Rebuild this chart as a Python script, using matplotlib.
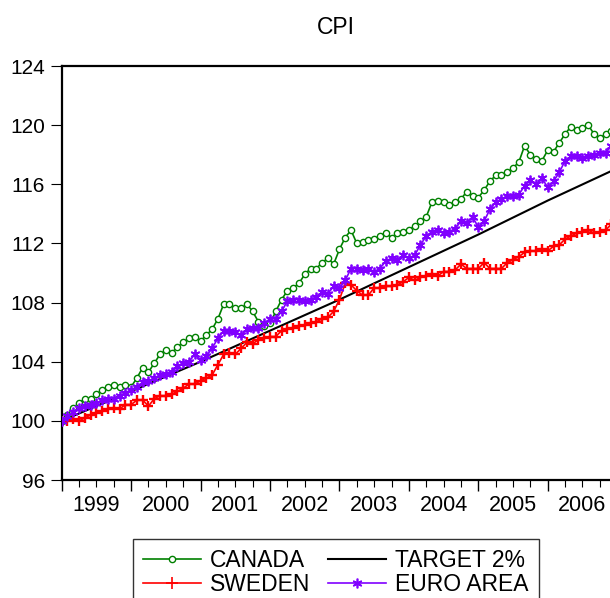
import numpy as np
import matplotlib
matplotlib.use("Agg")
import matplotlib.pyplot as plt
import matplotlib.transforms as mtransforms

plt.rcParams['font.family'] = ['Liberation Sans', 'DejaVu Sans']

# monthly CPI, 1999M1 = 100 (1999M1 .. 2006M12)
start_year = 1999
canada = [100.0, 100.4, 100.9, 101.2, 101.5, 101.5, 101.8, 102.1, 102.3, 102.4, 102.3, 102.4,
          102.3, 102.9, 103.6, 103.3, 103.9, 104.5, 104.8, 104.6, 105.0, 105.3, 105.6, 105.7,
          105.4, 105.8, 106.2, 106.9, 107.9, 107.9, 107.6, 107.6, 107.9, 107.4, 106.7, 106.4,
          106.6, 107.4, 108.2, 108.8, 109.0, 109.3, 109.9, 110.3, 110.3, 110.7, 111.0, 110.6,
          111.6, 112.4, 112.9, 112.0, 112.1, 112.2, 112.3, 112.5, 112.7, 112.4, 112.7, 112.8,
          112.9, 113.2, 113.5, 113.8, 114.8, 114.9, 114.8, 114.6, 114.8, 115.0, 115.5, 115.2,
          115.1, 115.6, 116.2, 116.6, 116.6, 116.8, 117.1, 117.5, 118.6, 118.0, 117.7, 117.6,
          118.3, 118.2, 118.8, 119.4, 119.9, 119.7, 119.8, 120.0, 119.4, 119.1, 119.4, 119.6]
sweden = [100.0, 100.0, 100.1, 100.0, 100.2, 100.4, 100.5, 100.7, 100.8, 100.9, 100.8, 101.1,
          101.1, 101.4, 101.4, 101.0, 101.5, 101.7, 101.7, 101.8, 102.0, 102.2, 102.5, 102.5,
          102.7, 102.9, 103.1, 103.8, 104.5, 104.6, 104.5, 104.9, 105.3, 105.2, 105.5, 105.6,
          105.7, 105.7, 106.1, 106.2, 106.3, 106.4, 106.5, 106.6, 106.7, 106.9, 107.0, 107.4,
          108.2, 109.3, 109.2, 108.8, 108.5, 108.5, 109.0, 109.0, 109.1, 109.1, 109.2, 109.4,
          109.7, 109.5, 109.7, 109.8, 109.9, 109.8, 110.1, 110.1, 110.2, 110.6, 110.3, 110.3,
          110.3, 110.7, 110.3, 110.3, 110.3, 110.7, 110.9, 111.1, 111.4, 111.5, 111.5, 111.6,
          111.5, 111.8, 111.9, 112.3, 112.5, 112.7, 112.8, 112.9, 112.7, 112.8, 112.9, 113.3]
euro = [100.0, 100.3, 100.6, 100.9, 101.0, 101.1, 101.2, 101.4, 101.5, 101.5, 101.7, 101.9,
        102.1, 102.3, 102.6, 102.7, 102.9, 103.1, 103.2, 103.3, 103.7, 103.9, 104.0, 104.5,
        104.1, 104.4, 104.9, 105.6, 106.1, 106.1, 106.0, 105.8, 106.2, 106.3, 106.3, 106.6,
        106.9, 106.9, 107.4, 108.1, 108.2, 108.2, 108.1, 108.2, 108.4, 108.7, 108.6, 109.1,
        109.0, 109.5, 110.3, 110.3, 110.2, 110.3, 110.1, 110.3, 110.8, 111.0, 110.9, 111.2,
        111.0, 111.2, 111.9, 112.5, 112.8, 112.9, 112.7, 112.8, 113.0, 113.5, 113.4, 113.8,
        113.1, 113.5, 114.3, 114.8, 115.0, 115.2, 115.2, 115.3, 115.9, 116.3, 116.0, 116.4,
        115.8, 116.2, 116.8, 117.6, 117.9, 117.9, 117.8, 117.9, 118.0, 118.1, 118.1, 118.6]

# 2% target path, value at each January plus the last month
target_months = [0, 12, 24, 36, 48, 60, 72, 84, 95]
target = [100.0, 102.0, 104.0, 106.1, 108.2, 110.4, 112.6, 114.9, 116.9]

years = [1999, 2000, 2001, 2002, 2003, 2004, 2005, 2006]
y_ticks = [96, 100, 104, 108, 112, 116, 120, 124]

t = start_year + np.arange(len(canada)) / 12.0
t_target = start_year + np.array(target_months) / 12.0

fig = plt.figure(figsize=(6.10, 5.98), dpi=100)
W, H = 610.0, 598.0
x0, x1 = 61.7, 613.7
ax = fig.add_axes([x0 / W, (H - 480) / H, (x1 - x0) / W, 414 / H])

ax.plot(t_target, target, color='black', lw=1.5, zorder=2)
ax.plot(t, canada, color='#008000', lw=1.2, marker='o', ms=4.5, mfc='white',
        mec='#008000', mew=1.0, zorder=3)
ax.plot(t, sweden, color='#ff0000', lw=1.2, marker='+', ms=7, mew=1.7, zorder=4)
ax.plot(t, euro, color='#8000ff', lw=1.2, marker=(6, 2, 0), ms=7, mew=1.3, zorder=5)

ax.set_xlim(start_year, start_year + 7.95)
ax.set_ylim(96, 124)

for side in ['left', 'bottom', 'top']:
    ax.spines[side].set_linewidth(1.6)
ax.spines['right'].set_visible(False)

ax.set_yticks(y_ticks)
ax.set_yticklabels([str(v) for v in y_ticks])
ax.tick_params(axis='y', direction='out', length=8, width=0.8, pad=4, labelsize=15)

ax.set_xticks(years)
ax.set_xticks(np.arange(start_year, start_year + 8, 0.25), minor=True)
ax.set_xticklabels([])
ax.tick_params(axis='x', which='major', direction='out', length=8, width=1.0)
ax.tick_params(axis='x', which='minor', direction='out', length=5, width=0.8)

trans = mtransforms.blended_transform_factory(ax.transData, ax.transAxes)
for yr in years:
    ax.text(yr + 0.5, -0.061, str(yr), transform=trans, ha='center', va='center',
            fontsize=15.5, clip_on=False)

fig.text((x0 + 611) / 2 / W, 1 - 27.5 / H, 'CPI', ha='center', va='center', fontsize=16.5)

h1, = ax.plot([], [], color='#008000', lw=1.2, marker='o', ms=4.5, mfc='white', mec='#008000')
h2, = ax.plot([], [], color='#ff0000', lw=1.2, marker='+', ms=9, mew=1.2)
h3, = ax.plot([], [], color='black', lw=1.5)
h4, = ax.plot([], [], color='#8000ff', lw=1.2, marker=(6, 2, 0), ms=7, mew=1.2)
leg = fig.legend([h1, h2, h3, h4], ['CANADA', 'SWEDEN', 'TARGET 2%', 'EURO AREA'],
                 ncol=2, loc='upper left', bbox_to_anchor=(133 / W, 1 - 539 / H),
                 fontsize=16.5, frameon=True, fancybox=False, borderpad=0.45,
                 handlelength=2.5, handletextpad=0.4, columnspacing=0.8,
                 labelspacing=0.02, borderaxespad=0)
leg.get_frame().set_edgecolor('black')
leg.get_frame().set_linewidth(1.0)

fig.savefig('out.png', dpi=100)
